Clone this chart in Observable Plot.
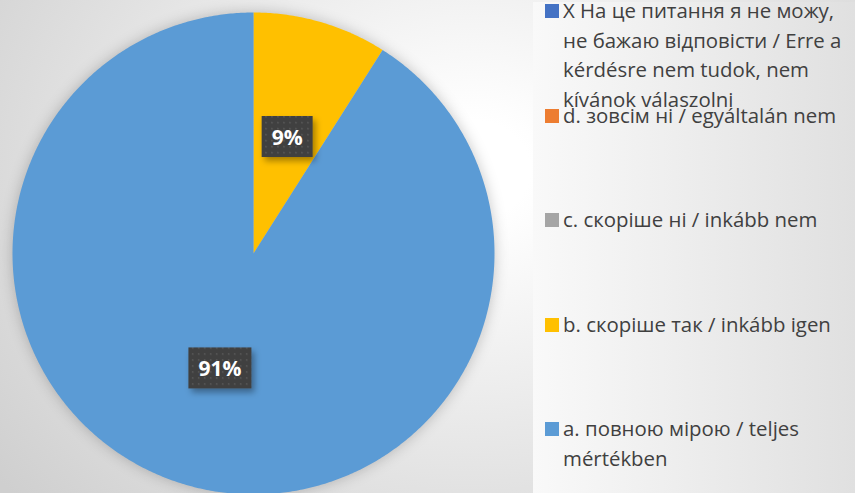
<!DOCTYPE html>
<html>
<head>
<meta charset="utf-8">
<script src="https://cdn.jsdelivr.net/npm/d3@7"></script>
<script src="https://cdn.jsdelivr.net/npm/@observablehq/plot@0.6"></script>
<style>
  html, body { margin: 0; padding: 0; }
  #wrap {
    position: relative; width: 855px; height: 493px; overflow: hidden;
    background: radial-gradient(ellipse 600px 500px at 470px 170px, #ffffff 10%, #cfcfcf 100%);
    font-family: "Open Sans", "Noto Sans", sans-serif;
  }
  #chart svg { display: block; background: transparent; }
  #chart g[aria-label="line"] { filter: drop-shadow(0 0 7px rgba(0,0,0,0.22)); }
  #legend {
    position: absolute; left: 533px; top: 2px; right: 0; bottom: 0;
    background: linear-gradient(to right, #f9f9f9, #e0e0e0);
  }
  .item { position: absolute; left: 12px; width: 310px; }
  .sw { position: absolute; left: 0; width: 14px; height: 14px; }
  .lab { position: absolute; left: 18px; white-space: pre; color: #404040; font-size: 20.4px; line-height: 29.5px; }
</style>
</head>
<body>
<div id="wrap">
  <div id="chart"></div>
  <div id="legend"></div>
</div>
<script>
// ---- data ----
const categories = [
  "X На це питання я не можу,\nне бажаю відповісти / Erre a\nkérdésre nem tudok, nem\nkívánok válaszolni",
  "d. зовсім ні / egyáltalán nem",
  "c. скоріше ні / inkább nem",
  "b. скоріше так / inkább igen",
  "a. повною мірою / teljes\nmértékben"
];
const colors = ["#4472C4", "#ED7D31", "#A5A5A5", "#FFC000", "#5B9BD5"];
const values = [0, 0, 0, 9, 91];
const valueLabels = ["0%", "0%", "0%", "9%", "91%"];

// ---- geometry ----
const W = 855, H = 493, cx = 253, cy = 253, R = 241;
const pie = d3.pie().sort(null).value(d => d.value);
const rows = categories.map((c, i) => ({cat: c, value: values[i], label: valueLabels[i]}));
const arcs = pie(rows).filter(a => a.data.value > 0);

const slicePts = [];
for (const a of arcs) {
  slicePts.push({cat: a.data.cat, x: 0, y: 0});
  const n = Math.max(2, Math.ceil((a.endAngle - a.startAngle) / (Math.PI / 360)));
  for (let k = 0; k <= n; k++) {
    const t = a.startAngle + (a.endAngle - a.startAngle) * k / n;
    slicePts.push({cat: a.data.cat, x: Math.sin(t), y: Math.cos(t)});
  }
}
const labelPts = arcs.map(a => {
  const m = (a.startAngle + a.endAngle) / 2;
  return {label: a.data.label, x: 0.5 * Math.sin(m), y: 0.5 * Math.cos(m)};
});

const plot = Plot.plot({
  width: W, height: H,
  margin: 0,
  x: {domain: [-cx / R, (W - cx) / R], axis: null},
  y: {domain: [-(H - cy) / R, cy / R], axis: null},
  color: {domain: categories, range: colors},
  marks: [
    Plot.line(slicePts, {x: "x", y: "y", z: "cat", fill: "cat", stroke: "none", curve: "linear-closed"}),
    Plot.text(labelPts, {x: "x", y: "y", text: "label", fill: "white", fontWeight: "bold", fontSize: 21, fontFamily: "Open Sans, sans-serif"})
  ]
});
document.getElementById("chart").appendChild(plot);

// label boxes with dotted pattern
const svgns = "http://www.w3.org/2000/svg";
const defs = document.createElementNS(svgns, "defs");
defs.innerHTML = `
  <pattern id="dots" width="6" height="6" patternUnits="userSpaceOnUse">
    <rect width="6" height="6" fill="#404040"/>
    <rect x="2" y="2" width="1.6" height="1.6" fill="#585858"/>
  </pattern>
  <filter id="boxshadow" x="-30%" y="-30%" width="170%" height="180%">
    <feDropShadow dx="3" dy="4" stdDeviation="3" flood-color="#000" flood-opacity="0.35"/>
  </filter>`;
plot.insertBefore(defs, plot.firstChild);
plot.querySelectorAll('g[aria-label="text"] text').forEach(t => {
  const b = t.getBBox();
  const r = document.createElementNS(svgns, "rect");
  const w = b.width + 20, h = 41;
  r.setAttribute("x", b.x + b.width / 2 - w / 2);
  r.setAttribute("y", b.y + b.height / 2 - h / 2);
  r.setAttribute("width", w);
  r.setAttribute("height", h);
  r.setAttribute("fill", "url(#dots)");
  r.setAttribute("filter", "url(#boxshadow)");
  const tr = t.getAttribute("transform");
  if (tr) r.setAttribute("transform", tr);
  t.parentNode.insertBefore(r, t);
});

// legend
const legend = document.getElementById("legend");
categories.forEach((c, i) => {
  const base = 16 + i * 104.5; // baseline of first line (legend coords)
  const it = document.createElement("div");
  it.className = "item";
  it.style.top = "0px";
  const sw = document.createElement("div");
  sw.className = "sw";
  sw.style.background = colors[i];
  sw.style.top = (base - 14) + "px";
  const lab = document.createElement("div");
  lab.className = "lab";
  lab.textContent = c;
  lab.style.top = (base - 22) + "px";
  it.appendChild(sw); it.appendChild(lab);
  legend.appendChild(it);
});
</script>
</body>
</html>
